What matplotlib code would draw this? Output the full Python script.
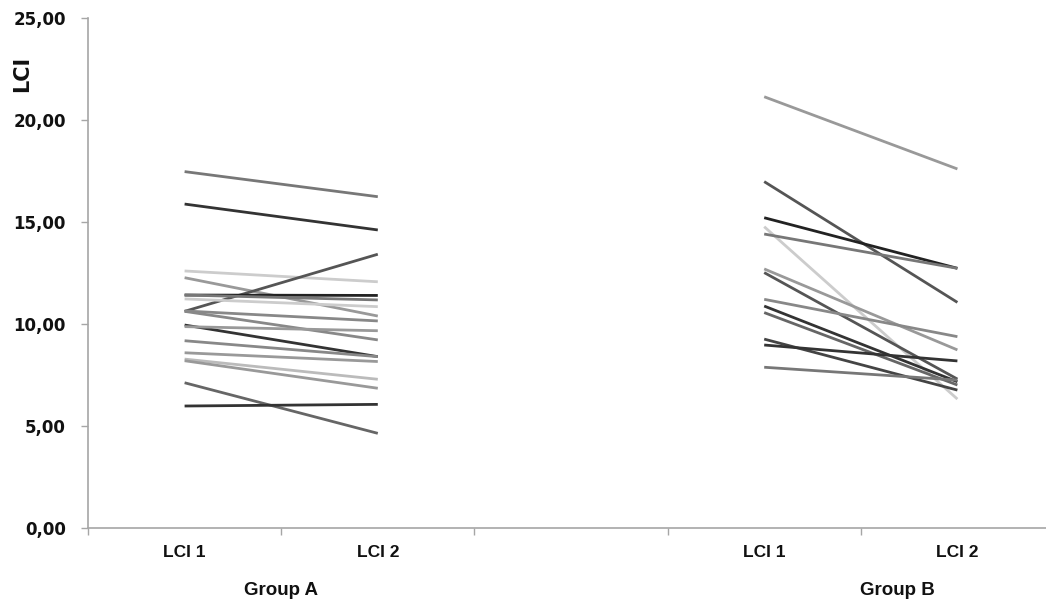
import matplotlib
matplotlib.use("Agg")
import matplotlib.pyplot as plt
from matplotlib.ticker import FixedLocator, NullFormatter

# ---- data ----
categories = ["LCI 1", "LCI 2", "", "LCI 1", "LCI 2"]
group_labels = ["Group A", "Group B"]

groupA_lci1 = [17.47, 15.88, 12.60, 12.27, 10.62, 11.42, 11.42, 11.23, 10.64,
               10.62, 9.95, 9.87, 9.18, 8.59, 8.28, 8.20, 7.12, 5.98]
groupA_lci2 = [16.24, 14.61, 12.07, 10.39, 13.42, 11.40, 11.18, 10.85, 10.15,
               9.22, 8.40, 9.67, 8.40, 8.16, 7.29, 6.85, 4.64, 6.06]
groupA_colors = ["#777777", "#333333", "#cccccc", "#999999", "#555555", "#222222",
                 "#777777", "#cccccc", "#888888", "#888888", "#333333", "#999999",
                 "#888888", "#999999", "#bbbbbb", "#999999", "#666666", "#333333"]

groupB_lci1 = [21.14, 16.98, 15.21, 14.77, 14.41, 12.70, 12.52, 11.21, 10.88,
               10.56, 9.26, 8.97, 7.88]
groupB_lci2 = [17.60, 11.06, 12.73, 6.32, 12.73, 8.73, 7.30, 9.38, 7.17,
               7.01, 6.76, 8.19, 7.25]
groupB_colors = ["#999999", "#555555", "#222222", "#cccccc", "#777777", "#999999",
                 "#555555", "#888888", "#333333", "#666666", "#444444", "#333333",
                 "#777777"]

yticks = [0, 5, 10, 15, 20, 25]

W, H = 1046, 604
fig = plt.figure(figsize=(W / 100, H / 100), dpi=100)
ax = fig.add_axes([88 / W, (H - 528) / H, 966 / W, 510 / H])

for a, b, c in zip(groupA_lci1, groupA_lci2, groupA_colors):
    ax.plot([0, 1], [a, b], color=c, lw=2.0, solid_capstyle="butt")
for a, b, c in zip(groupB_lci1, groupB_lci2, groupB_colors):
    ax.plot([3, 4], [a, b], color=c, lw=2.0, solid_capstyle="butt")

ax.set_xlim(-0.5, len(categories) - 0.5)
ax.set_ylim(0, 25)

for s in ["top", "right"]:
    ax.spines[s].set_visible(False)
for s in ["left", "bottom"]:
    ax.spines[s].set_color("#a6a6a6")
    ax.spines[s].set_linewidth(1.2)

ax.set_yticks(yticks)
ax.set_yticklabels([f"{v:.2f}".replace(".", ",") for v in yticks],
                   fontsize=12, fontweight="bold", color="#111111")
ax.tick_params(axis="y", direction="out", length=5, color="#a6a6a6", width=1, pad=11)

ax.xaxis.set_major_locator(FixedLocator([i - 0.5 for i in range(len(categories) + 1)]))
ax.xaxis.set_major_formatter(NullFormatter())
ax.xaxis.set_minor_locator(FixedLocator(list(range(len(categories)))))
ax.set_xticklabels(categories, minor=True, fontsize=12.5, fontweight="bold",
                   fontfamily="Liberation Sans", color="#111111")
ax.tick_params(axis="x", which="major", direction="out", length=5, color="#a6a6a6", width=1)
ax.tick_params(axis="x", which="minor", length=0, pad=12)

for xpos, lab in zip([0.5, 3.69], group_labels):
    ax.text(xpos, -0.122, lab, transform=ax.get_xaxis_transform(),
            ha="center", va="center", fontsize=13.5, fontweight="bold",
            fontfamily="Liberation Sans", color="#111111")

fig.text(22 / W, (H - 74) / H, "LCI", rotation=90, ha="center", va="center",
         fontsize=15, fontweight="bold", color="#111111")

fig.savefig("out.png", dpi=100, facecolor="white")
